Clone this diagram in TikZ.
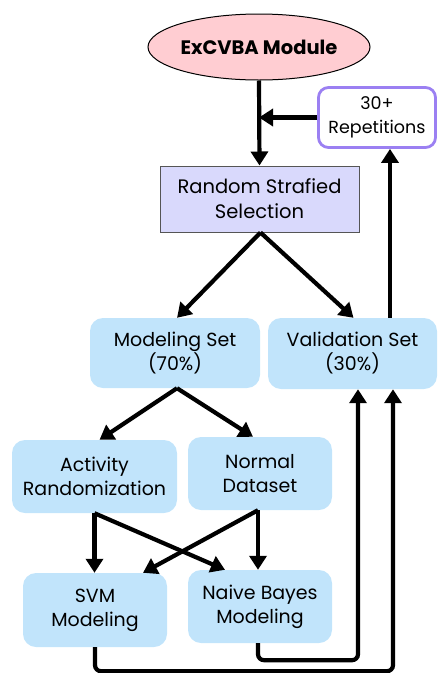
\documentclass[tikz,border=0pt]{standalone}
\usepackage{fontspec}
\setmainfont{Poppins}
\usetikzlibrary{arrows.meta,shapes.geometric,calc}
\definecolor{pinkfill}{HTML}{FFCDD2}
\definecolor{lavfill}{HTML}{D9D9FC}
\definecolor{bluefill}{HTML}{C1E4FB}
\definecolor{purpbord}{HTML}{9B80F2}
\definecolor{graybord}{HTML}{555555}
\tikzset{
  conn/.style={line width=4.2pt,-{Triangle[width=17pt,length=14pt]}},
  bluebox/.style={fill=bluefill,rounded corners=13pt,align=center,font=\fontsize{19}{24}\selectfont,inner sep=0pt},
}
\begin{document}
\begin{tikzpicture}[x=1pt,y=-1pt]
\useasboundingbox (0,0) rectangle (439,673);
\node[ellipse,draw=black,line width=1pt,fill=pinkfill,minimum width=222pt,minimum height=66pt,inner sep=0pt,font=\bfseries\fontsize{19.5}{24}\selectfont] (ell) at (259,47) {ExCVBA Module};
\node[draw=purpbord,line width=2.8pt,rounded corners=10pt,fill=white,minimum width=117pt,minimum height=60pt,align=center,inner sep=0pt,font=\fontsize{17.5}{24}\selectfont] (rep) at (377,117.5) {30+\\Repetitions};
\node[draw=graybord,line width=1pt,fill=lavfill,minimum width=199pt,minimum height=66pt,align=center,inner sep=0pt,font=\fontsize{19.5}{25}\selectfont] (rand) at (259.5,199) {Random Strafied\\Selection};
\node[bluebox,minimum width=170pt,minimum height=70pt] (mod) at (175,353) {Modeling Set\\(70\%)};
\node[bluebox,minimum width=169pt,minimum height=71pt] (val) at (352.5,353.5) {Validation Set\\(30\%)};
\node[bluebox,minimum width=165pt,minimum height=73pt] (act) at (94.5,476.5) {Activity\\Randomization};
\node[bluebox,minimum width=144pt,minimum height=73pt] (nd) at (260,473.5) {Normal\\Dataset};
\node[bluebox,minimum width=144pt,minimum height=74pt] (svm) at (95,610) {SVM\\Modeling};
\node[bluebox,minimum width=144pt,minimum height=73pt] (nb) at (260,606.5) {Naive Bayes\\Modeling};
% connectors
\draw[conn] (ell.south) -- (rand.north);
\draw[conn] (rep.west) -- (rep.west -| ell.south);
\draw[conn] ([xshift=1pt]rand.south) -- ([xshift=2pt]mod.north);
\draw[conn] ([xshift=1pt]rand.south) -- ([xshift=1pt]val.north);
\draw[conn] ([xshift=37.5pt]val.north) -- ([xshift=37.5pt]val.north |- rep.south);
\draw[conn] ([xshift=2pt]mod.south) -- ([xshift=5pt]act.north);
\draw[conn] ([xshift=2pt]mod.south) -- ([xshift=-7pt]nd.north);
\draw[conn] (act.south) -- (svm.north -| act.south);
\draw[conn] (act.south) -- ([xshift=-35pt]nb.north);
\draw[conn] ([xshift=-2pt]nd.south) -- ([xshift=48pt]svm.north);
\draw[conn] ([xshift=-2pt]nd.south) -- ([xshift=-2pt]nb.north);
\draw[conn,rounded corners=6pt] ([xshift=-2pt]nb.south) -- ++(0,17) -| ([xshift=5.5pt]val.south);
\draw[conn,rounded corners=6pt] (svm.south) -- ++(0,24) -| ([xshift=40.5pt]val.south);
\end{tikzpicture}
\end{document}
